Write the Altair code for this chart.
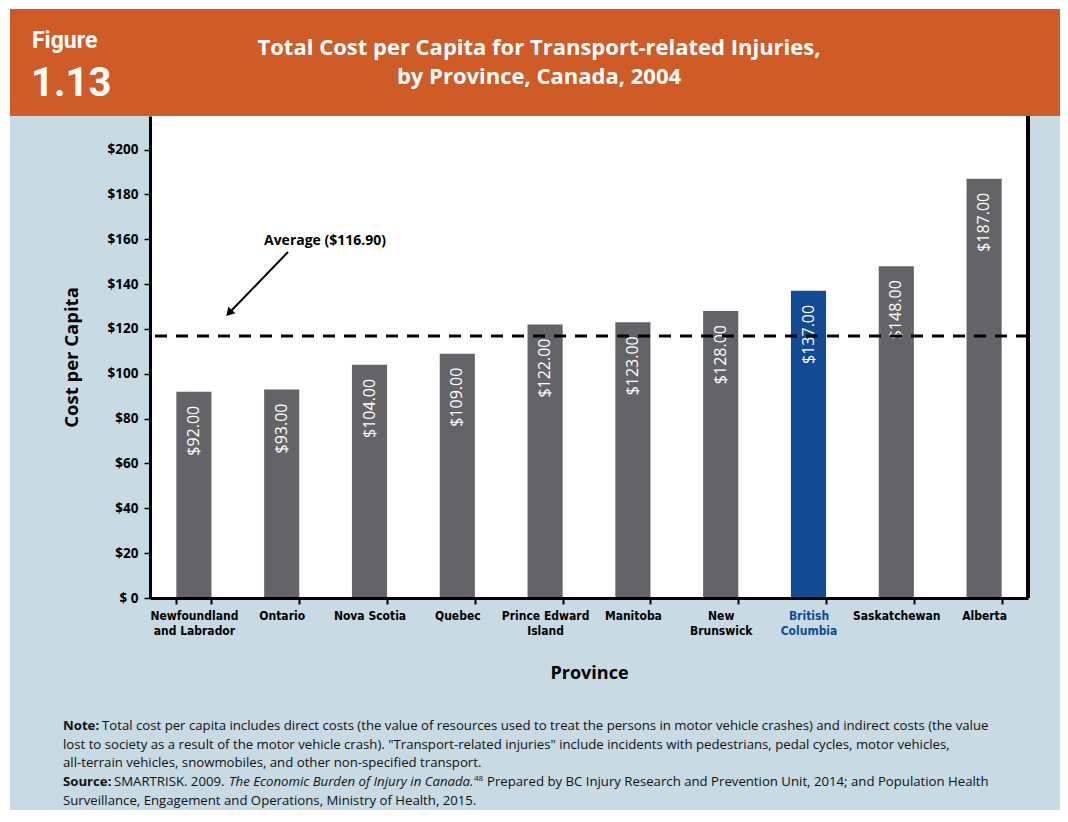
import altair as alt
import pandas as pd

# ---- data ----
provinces = ["Newfoundland and Labrador", "Ontario", "Nova Scotia", "Quebec",
             "Prince Edward Island", "Manitoba", "New Brunswick", "British Columbia",
             "Saskatchewan", "Alberta"]
axis_labels = ["Newfoundland|and Labrador", "Ontario", "Nova Scotia", "Quebec",
               "Prince Edward|Island", "Manitoba", "New|Brunswick", "British|Columbia",
               "Saskatchewan", "Alberta"]
cost = [92.0, 93.0, 104.0, 109.0, 122.0, 123.0, 128.0, 137.0, 148.0, 187.0]
highlight = "British Columbia"
average = 116.90
y_ticks = [0, 20, 40, 60, 80, 100, 120, 140, 160, 180, 200]

df = pd.DataFrame({"Province": axis_labels, "Cost": cost,
                   "Label": ["$%.2f" % v for v in cost],
                   "Highlight": [p == highlight for p in provinces]})

ORANGE = "#CF5B27"
BG = "#C8DAE3"
GRAY = "#636368"
BLUE = "#124B94"
W, H = 878, 482
PAD_B = 212
COND = "DejaVu Sans Condensed, Roboto, sans-serif"
SANS = "Open Sans, Noto Sans, sans-serif"

x_enc = alt.X("Province:N", sort=axis_labels, title="Province",
              scale=alt.Scale(paddingInner=0.6, paddingOuter=0.3),
              axis=alt.Axis(labelAngle=0, zindex=1,
                            labelExpr="isValid(datum.value) ? split(datum.value, '|') : ''",
                            labelFont=COND, labelFontSize=12, labelFontWeight="bold",
                            labelColor=alt.condition("datum.value == 'British|Columbia'",
                                                     alt.value(BLUE), alt.value("black")),
                            labelPadding=6, labelLineHeight=15,
                            tickBand="extent", tickSize=6, tickColor="black", tickWidth=2,
                            domainColor="black", domainWidth=3,
                            titleFont=SANS, titleFontSize=18, titleFontWeight="bold",
                            titleColor="black", titlePadding=28))
y_enc = alt.Y("Cost:Q", title="Cost per Capita",
              scale=alt.Scale(domain=[0, 215], nice=False),
              axis=alt.Axis(values=y_ticks, grid=False, zindex=1,
                            labelExpr="datum.value == 0 ? '$ 0' : '$' + datum.value",
                            labelFont=SANS, labelFontSize=13.5, labelFontWeight="bold",
                            labelColor="black", labelPadding=6,
                            tickSize=6, tickColor="black", tickWidth=1.5,
                            domainColor="black", domainWidth=3,
                            titleFont=SANS, titleFontSize=18.5, titleFontWeight="bold",
                            titleColor="black", titlePadding=26))

base = alt.Chart(df)
bars = base.mark_bar().encode(
    x=x_enc, y=y_enc,
    color=alt.condition("datum.Highlight", alt.value(BLUE), alt.value(GRAY)))
labels = base.mark_text(angle=270, align="right", baseline="middle", dx=-14,
                        color="white", font=SANS, fontSize=16).encode(
    x=alt.X("Province:N", sort=axis_labels), y="Cost:Q", text="Label:N")

avg_df = pd.DataFrame({"avg": [average]})
avg_line = alt.Chart(avg_df).mark_rule(color="black", strokeWidth=3,
                                       strokeDash=[12, 9]).encode(y="avg:Q")

deco = pd.DataFrame({"k": [0]})
dbase = alt.Chart(deco)
panel_bg = dbase.mark_rect(color=BG).encode(
    x=alt.value(-140), x2=alt.value(910), y=alt.value(0), y2=alt.value(H + PAD_B))
plot_bg = dbase.mark_rect(color="white").encode(
    x=alt.value(0), x2=alt.value(W), y=alt.value(0), y2=alt.value(H))
right_border = dbase.mark_rule(color="black", strokeWidth=4).encode(
    x=alt.value(W), y=alt.value(0), y2=alt.value(H))
arrow_line = dbase.mark_rule(color="black", strokeWidth=2).encode(
    x=alt.value(138), y=alt.value(136), x2=alt.value(81), y2=alt.value(195))
arrow_head = dbase.mark_point(shape="triangle", filled=True, color="black", size=90,
                              angle=223, opacity=1).encode(
    x=alt.value(80), y=alt.value(196))
avg_text = dbase.mark_text(text="Average ($116.90)", font=SANS, fontSize=14,
                           fontWeight="bold", color="black", align="center",
                           baseline="middle").encode(x=alt.value(175), y=alt.value(125))

header = dbase.mark_rect(color=ORANGE).encode(
    x=alt.value(-140), x2=alt.value(910), y=alt.value(-107), y2=alt.value(0))
fig_word = dbase.mark_text(text="Figure", font="Roboto, sans-serif", fontSize=23,
                           fontWeight="bold", color="white", align="left",
                           baseline="alphabetic").encode(
    x=alt.value(-118), y=alt.value(-68))
fig_num = dbase.mark_text(text="1.13", font="Roboto, sans-serif", fontSize=40,
                          fontWeight="bold", color="white", align="left",
                          baseline="alphabetic").encode(
    x=alt.value(-119), y=alt.value(-20))
title1 = dbase.mark_text(text="Total Cost per Capita for Transport-related Injuries,",
                         font=SANS, fontSize=22, fontWeight="bold", color="white",
                         align="center", baseline="alphabetic").encode(
    x=alt.value(389), y=alt.value(-61))
title2 = dbase.mark_text(text="by Province, Canada, 2004",
                         font=SANS, fontSize=22, fontWeight="bold", color="white",
                         align="center", baseline="alphabetic").encode(
    x=alt.value(389), y=alt.value(-32))

# notes
NX = -87
FS = 13.2
note_segments = [
    ("Note:", NX, 614, "bold", "normal", FS),
    ("Total cost per capita includes direct costs (the value of resources used to treat the persons in motor vehicle crashes) and indirect costs (the value",
     -48, 614, "normal", "normal", FS),
    ("lost to society as a result of the motor vehicle crash). \"Transport-related injuries\" include incidents with pedestrians, pedal cycles, motor vehicles,",
     NX, 633, "normal", "normal", FS),
    ("all-terrain vehicles, snowmobiles, and other non-specified transport.",
     NX, 651, "normal", "normal", FS),
    ("Source:", NX, 670, "bold", "normal", FS),
    ("SMARTRISK. 2009.", -36, 670, "normal", "normal", FS),
    ("The Economic Burden of Injury in Canada.", 79, 670, "normal", "italic", FS),
    ("48", 324, 665, "normal", "normal", 8),
    ("Prepared by BC Injury Research and Prevention Unit, 2014; and Population Health",
     337, 670, "normal", "normal", FS),
    ("Surveillance, Engagement and Operations, Ministry of Health, 2015.",
     NX, 689, "normal", "normal", FS),
]
note_layers = []
for txt, xx, yy, fw, fs, sz in note_segments:
    note_layers.append(dbase.mark_text(text=txt, font=SANS, fontSize=sz, fontWeight=fw,
                                       fontStyle=fs, color="#111111", align="left",
                                       baseline="alphabetic").encode(
        x=alt.value(xx), y=alt.value(yy)))

chart = alt.layer(
    panel_bg, plot_bg, header, fig_word, fig_num, title1, title2,
    bars, labels, avg_line, right_border, arrow_line, arrow_head, avg_text,
    *note_layers
).properties(
    width=W, height=H,
    background="white",
    padding={"left": 142, "top": 108, "right": 32, "bottom": PAD_B},
    autosize=alt.AutoSizeParams(type="none"),
).configure_view(fill=None, stroke=None)

chart.save("out.html", embed_options={"renderer": "svg", "actions": False})
